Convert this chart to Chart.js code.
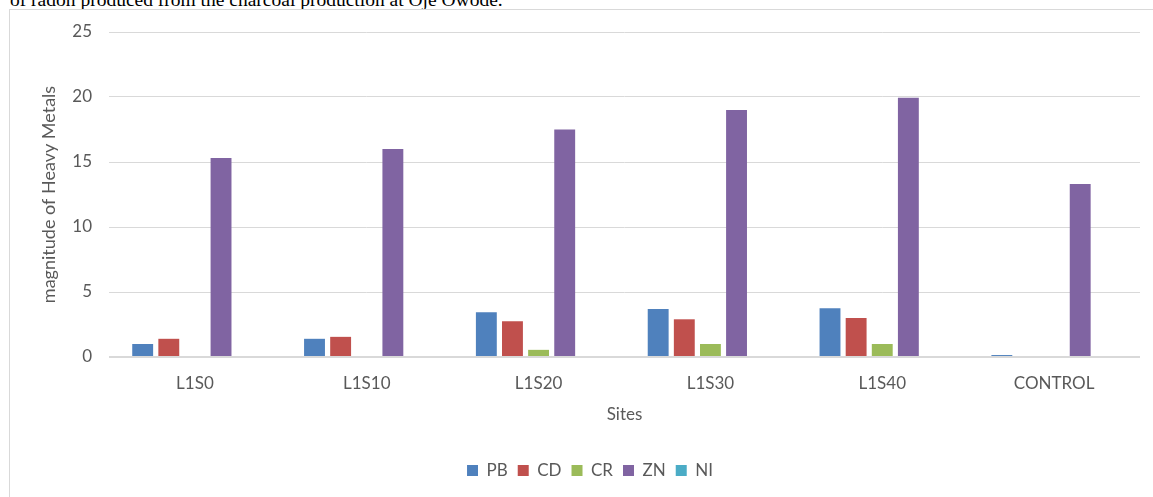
<!DOCTYPE html>
<html>
<head>
<meta charset="utf-8">
<script src="https://cdn.jsdelivr.net/npm/chart.js@4"></script>
<style>
  html, body { margin: 0; padding: 0; width: 1153px; height: 497px; overflow: hidden; background: #fff; }
  #caption {
    position: absolute; left: 10px; top: -11px;
    font-family: "Liberation Serif", "Times New Roman", serif;
    font-size: 19.5px; color: #000; white-space: nowrap;
  }
  #frame {
    position: absolute; left: 9px; top: 9px; width: 1200px; height: 600px;
    border: 1px solid #d9d9d9; box-sizing: border-box;
  }
  #wrap { position: absolute; left: 0; top: 0; width: 1153px; height: 497px; }
</style>
</head>
<body>
<div id="caption">of radon produced from the charcoal production at Oje Owode.</div>
<div id="frame"></div>
<div id="wrap"><canvas id="chart" width="1153" height="497"></canvas></div>
<script>
// Sampling sites and heavy metal magnitudes per site
const sites = ["L1S0", "L1S10", "L1S20", "L1S30", "L1S40", "CONTROL"];
const pb = [1.0, 1.4, 3.45, 3.7, 3.75, 0.15];
const cd = [1.4, 1.55, 2.75, 2.9, 3.0, 0];
const cr = [0, 0, 0.55, 1.0, 1.0, 0];
const zn = [15.3, 16.0, 17.5, 19.0, 19.95, 13.3];
const ni = [0, 0, 0, 0, 0, 0];
const yTicks = [0, 5, 10, 15, 20, 25];

const textColor = "#595959";
const gridColor = "#d9d9d9";
const font = "Lato, 'Open Sans', sans-serif";

const series = [
  { label: "PB", data: pb, color: "#4f81bd" },
  { label: "CD", data: cd, color: "#c0504d" },
  { label: "CR", data: cr, color: "#9bbb59" },
  { label: "ZN", data: zn, color: "#8064a2" },
  { label: "NI", data: ni, color: "#4bacc6" }
];

// Nudge the legend row to the right so it sits under the plot's visual centre
const legendShift = {
  id: "legendShift",
  afterLayout(chart) {
    const lg = chart.legend;
    if (lg) { lg.left += 20; lg.right += 20; }
  }
};

new Chart(document.getElementById("chart"), {
  type: "bar",
  data: {
    labels: sites,
    datasets: series.map(s => ({
      label: s.label,
      data: s.data,
      backgroundColor: s.color,
      borderWidth: 0,
      categoryPercentage: 0.76,
      barPercentage: 0.8
    }))
  },
  plugins: [legendShift],
  options: {
    responsive: false,
    animation: false,
    layout: { padding: { left: 0, right: 13, top: 32, bottom: 8 } },
    plugins: {
      tooltip: { enabled: false },
      legend: {
        position: "bottom",
        labels: {
          boxWidth: 11, boxHeight: 11, padding: 10,
          color: textColor, font: { family: font, size: 17 }
        }
      }
    },
    scales: {
      x: {
        grid: { display: false, drawTicks: false },
        border: { display: false },
        ticks: { color: textColor, font: { family: font, size: 17 }, padding: 16, maxRotation: 0 },
        title: {
          display: true, text: "Sites", color: textColor,
          font: { family: font, size: 17 }, padding: { top: 0, bottom: 27 }
        },
        afterFit: s => { s.height = 95; }
      },
      y: {
        min: 0, max: 25,
        afterBuildTicks: s => { s.ticks = yTicks.map(v => ({ value: v })); },
        grid: {
          color: gridColor,
          lineWidth: c => (c.tick && c.tick.value === 0 ? 2 : 1),
          drawTicks: false
        },
        border: { display: false },
        ticks: { color: textColor, font: { family: font, size: 17 }, padding: 17 },
        title: {
          display: true, text: "magnitude of Heavy Metals", color: textColor,
          font: { family: font, size: 18 }, padding: { top: 38, bottom: 0 }
        },
        afterFit: s => { s.width = 109; }
      }
    }
  }
});
</script>
</body>
</html>
